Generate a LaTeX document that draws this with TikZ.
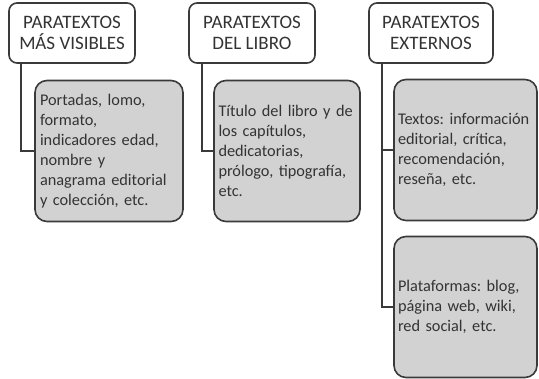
\documentclass[tikz,border=0pt]{standalone}
\usepackage{fontspec}
\setmainfont{Carlito}
\frenchspacing
\definecolor{boxline}{HTML}{3A3A3A}
\definecolor{boxfill}{HTML}{D2D2D2}
\begin{document}
\begin{tikzpicture}[x=1pt,y=-1pt,line width=1.6pt,draw=boxline,
  head/.style={draw=boxline,fill=white,rounded corners=8pt,minimum height=60pt,align=center,inner sep=0pt,font=\fontsize{19}{21}\selectfont,text=black!80},
  leaf/.style={draw=boxline,fill=boxfill,rounded corners=12pt,minimum height=141pt,align=left,inner sep=0pt,font=\fontsize{16.3}{20}\selectfont,text=black!80}]
\useasboundingbox (0,0) rectangle (539,379);
\node[head,minimum width=126pt] (h1) at (72,33) {PARATEXTOS\\MÁS VISIBLES};
\node[head,minimum width=126pt] (h2) at (252,33) {PARATEXTOS\\DEL LIBRO};
\node[head,minimum width=124pt] (h3) at (431,33) {PARATEXTOS\\EXTERNOS};
\node[leaf,minimum width=148pt,text width=138pt] (c1) at (109,151) {Portadas, lomo,\\formato,\\indicadores edad,\\nombre y\\anagrama editorial\\y colección, etc.};
\node[leaf,minimum width=146pt,text width=137pt] (c2) at (287,151) {Título del libro y de\\los capítulos,\\dedicatorias,\\prólogo, tipografía,\\etc.};
\node[leaf,minimum width=143pt,text width=135pt] (c3) at (465.5,150) {Textos: información\\editorial, crítica,\\recomendación,\\reseña, etc.};
\node[leaf,minimum width=143pt,text width=135pt] (c4) at (465.5,307) {Plataformas: blog,\\página web, wiki,\\red social, etc.};
\draw (h1.south west) ++(13,0) |- (c1.west);
\draw (h2.south west) ++(14,0) |- (c2.west);
\draw (h3.south west) ++(14,0) |- (c3.west);
\draw (h3.south west) ++(14,0) |- (c4.west);
\end{tikzpicture}
\end{document}
